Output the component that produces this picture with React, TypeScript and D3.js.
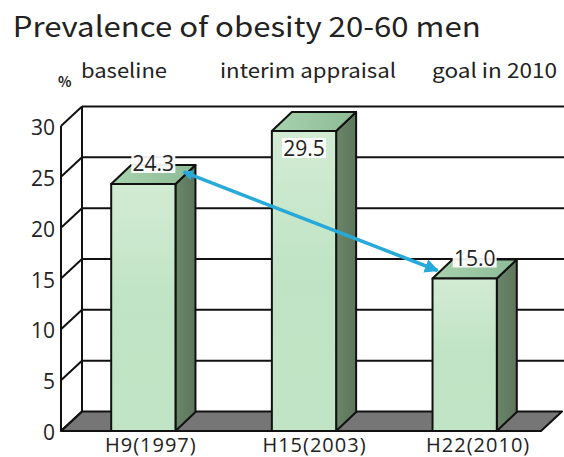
import React from "react";
import * as d3 from "d3";

const categories = ["H9(1997)", "H15(2003)", "H22(2010)"];
const values = [24.3, 29.5, 15.0];
const valueLabels = ["24.3", "29.5", "15.0"];
const yTicks = [0, 5, 10, 15, 20, 25, 30];
const title = "Prevalence of obesity 20-60 men";
const headers = ["baseline", "interim appraisal", "goal in 2010"];
const unitLabel = "%";

const W = 564;
const H = 457;

export default function App() {
  const yF = d3.scaleLinear().domain([0, 30]).range([431, 126]);
  const wallDx = 21;
  const wallDy = -19.5;
  const barDx = 20;
  const barDy = -19;
  const frontLeft = 61;
  const frontRight = 541;
  const yB = (v: number) => yF(v) + wallDy;
  const backLeft = frontLeft + wallDx;

  const xBar = d3.scaleBand<string>().domain(categories).range([63, 545]).paddingInner(0.6).paddingOuter(0.3);
  const xLab = d3.scaleBand<string>().domain(categories).range([69, 560]);

  const headerX = [81, 220, 432];
  const headerW = [86, 176, 125];

  const floor = [
    [frontLeft, yF(0)],
    [frontRight, yF(0)],
    [frontRight + wallDx, yB(0)],
    [backLeft, yB(0)],
  ];

  const line = d3.line();
  const y0 = yF(0);

  return (
    <svg width={W} height={H} style={{ position: "absolute", left: 0, top: 0, background: "#fff" }}>
      <defs>
        <linearGradient id="front" x1="0" y1="0" x2="0" y2="1">
          <stop offset="0" stopColor="#d2ebd3" />
          <stop offset="0.5" stopColor="#bfe3c4" />
          <stop offset="1" stopColor="#c2e4c6" />
        </linearGradient>
        <linearGradient id="top" x1="0" y1="0" x2="1" y2="0">
          <stop offset="0" stopColor="#a8d2ae" />
          <stop offset="1" stopColor="#8cbb95" />
        </linearGradient>
        <linearGradient id="side" x1="0" y1="0" x2="1" y2="0">
          <stop offset="0" stopColor="#6a8668" />
          <stop offset="1" stopColor="#5d755c" />
        </linearGradient>
        <marker id="headEnd" viewBox="0 0 10 10" refX="9" refY="5" markerWidth="4" markerHeight="4" orient="auto">
          <path d="M0,0 L10,5 L0,10 z" fill="#27a9d9" />
        </marker>
        <marker id="headStart" viewBox="0 0 10 10" refX="1" refY="5" markerWidth="3" markerHeight="3" orient="auto">
          <path d="M10,0 L0,5 L10,10 z" fill="#27a9d9" />
        </marker>
      </defs>

      <text x={12.7} y={36.7} fontFamily="'Noto Sans CJK JP', 'Noto Sans', sans-serif" fontSize={28}
        fill="#222" textLength={468} lengthAdjust="spacingAndGlyphs">{title}</text>
      <text x={58} y={87} fontFamily="'Noto Sans CJK JP', sans-serif" fontSize={14} fontWeight="bold" fill="#222">{unitLabel}</text>
      {headers.map((h, i) => (
        <text key={h} x={headerX[i]} y={78.3} fontFamily="'Noto Sans CJK JP', 'Noto Sans', sans-serif"
          fontSize={20} fill="#222" textLength={headerW[i]} lengthAdjust="spacingAndGlyphs">{h}</text>
      ))}

      {/* floor */}
      <path d={line(floor as [number, number][]) + "Z"} fill="#767676" stroke="#111" strokeWidth={2} strokeLinejoin="round" />

      {/* gridlines on back wall and side wall */}
      {yTicks.map((v) => (
        <g key={v}>
          {v > 0 && (
            <line x1={backLeft} x2={W} y1={yB(v)} y2={yB(v)} stroke="#111" strokeWidth={2} />
          )}
          <line x1={frontLeft} y1={yF(v)} x2={backLeft} y2={yB(v)} stroke="#111" strokeWidth={2} />
          <text x={55} y={yF(v) + 1} textAnchor="end" dominantBaseline="central"
            fontFamily="'Open Sans', sans-serif" fontSize={21} fill="#222">{v}</text>
        </g>
      ))}
      <line x1={frontLeft} x2={frontLeft} y1={yF(0)} y2={yF(30)} stroke="#111" strokeWidth={2} />
      <line x1={backLeft} x2={backLeft} y1={yB(0)} y2={yB(30)} stroke="#111" strokeWidth={2} />

      {/* bars */}
      {categories.map((c, i) => {
        const x0 = xBar(c)!;
        const x1 = x0 + xBar.bandwidth();
        const yt = yF(values[i]);
        const side: [number, number][] = [[x1, y0], [x1 + barDx, y0 + barDy], [x1 + barDx, yt + barDy], [x1, yt]];
        const top: [number, number][] = [[x0, yt], [x0 + barDx, yt + barDy], [x1 + barDx, yt + barDy], [x1, yt]];
        return (
          <g key={c} stroke="#111" strokeWidth={2} strokeLinejoin="round">
            <path d={line(side) + "Z"} fill="url(#side)" />
            <path d={line(top) + "Z"} fill="url(#top)" />
            <rect x={x0} y={yt} width={x1 - x0} height={y0 - yt} fill="url(#front)" />
          </g>
        );
      })}

      {/* arrow */}
      {(() => {
        const xa = xBar(categories[0])! + xBar.bandwidth() + 8;
        const ya = yF(values[0]) - 12;
        const xb = xBar(categories[2])! + 5;
        const yb = yF(values[2]) - 8;
        return (
          <line x1={xa} y1={ya} x2={xb} y2={yb} stroke="#27a9d9" strokeWidth={3.5}
            markerEnd="url(#headEnd)" markerStart="url(#headStart)" />
        );
      })()}

      {/* value labels */}
      {categories.map((c, i) => {
        const cx = xBar(c)! + xBar.bandwidth() / 2;
        const raw = yF(values[i]) + barDy - 2;
        const minY = yF(30) + 22;
        const clamped = raw < minY;
        const ly = clamped ? minY : raw;
        const lx = clamped ? cx : cx + barDx / 2;
        return (
          <g key={c}>
            <rect x={lx - 22} y={ly - 10} width={44} height={20} fill="#fff" opacity={0.92} />
            <text x={lx} y={ly} textAnchor="middle" dominantBaseline="central"
              fontFamily="'Open Sans', sans-serif" fontSize={21} fill="#222">{valueLabels[i]}</text>
          </g>
        );
      })}

      {/* category labels */}
      {categories.map((c) => (
        <text key={c} x={xLab(c)! + xLab.bandwidth() / 2} y={452} textAnchor="middle"
          fontFamily="'Open Sans', sans-serif" fontSize={20} letterSpacing={1} fill="#222">{c}</text>
      ))}
    </svg>
  );
}
